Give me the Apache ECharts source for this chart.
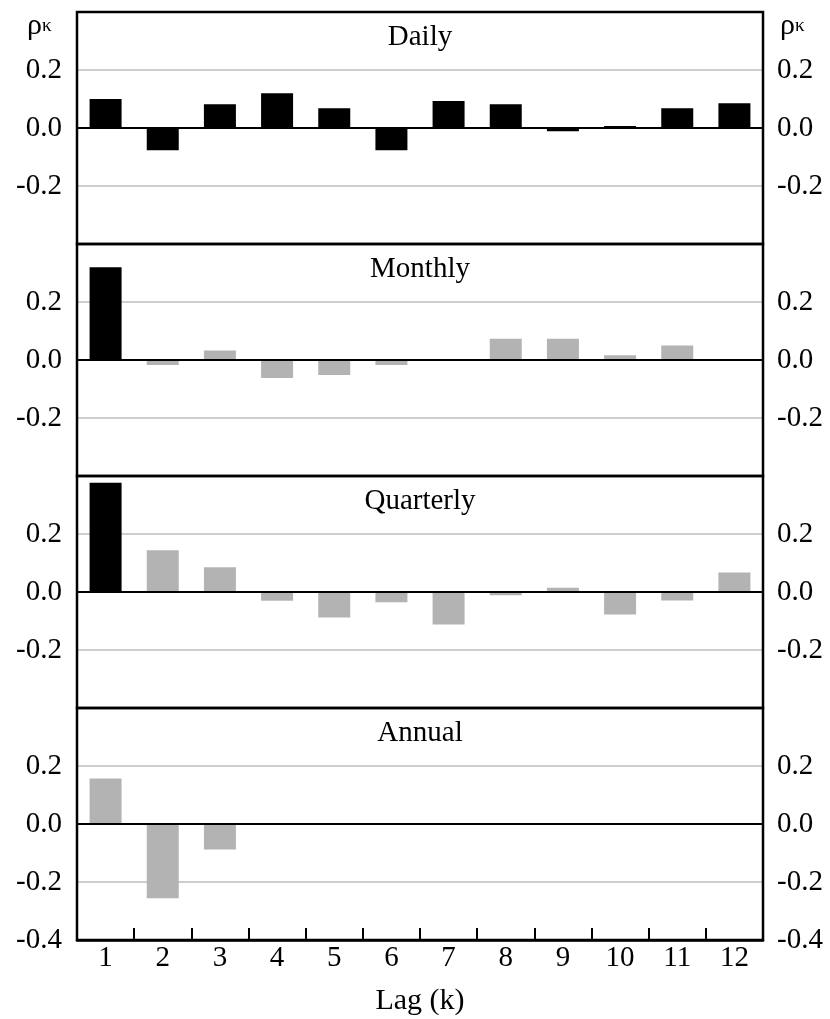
<!DOCTYPE html>
<html>
<head>
<meta charset="utf-8">
<script src="https://cdn.jsdelivr.net/npm/echarts@6/dist/echarts.min.js"></script>
<style>
html,body{margin:0;padding:0;background:#fff;}
#chart{width:830px;height:1019px;}
</style>
</head>
<body>
<div id="chart"></div>
<script>
// ---- data ----
var lags = ['1','2','3','4','5','6','7','8','9','10','11','12'];
var panelNames = ['Daily','Monthly','Quarterly','Annual'];
var daily     = [0.100, -0.077, 0.082, 0.120, 0.068, -0.077, 0.093, 0.082, -0.011, 0.007, 0.068, 0.085];
var monthly   = [0.320, -0.017, 0.033, -0.062, -0.052, -0.017, -0.003, 0.073, 0.073, 0.016, 0.050, -0.002];
var quarterly = [0.377, 0.144, 0.085, -0.030, -0.088, -0.035, -0.112, -0.011, 0.015, -0.078, -0.029, 0.067];
var annual    = [0.157, -0.256, -0.088];
// significant lags drawn in black, others in grey
var dailySig     = [true,true,true,true,true,true,true,true,true,true,true,true];
var monthlySig   = [true,false,false,false,false,false,false,false,false,false,false,false];
var quarterlySig = [true,false,false,false,false,false,false,false,false,false,false,false];
var annualSig    = [false,false,false];
var yTicks = [-0.4, -0.2, 0.0, 0.2, 0.4];
var xName = 'Lag (k)';
var yName = ['ρ','κ'];

// ---- layout / style ----
var FONT = 'Liberation Serif';
var FS = 29;
var L = 77, R = 763, W = 830;
var tops = [12, 244, 476, 708];
var H = 232;
var seriesVals = [daily, monthly, quarterly, annual];
var seriesSig = [dailySig, monthlySig, quarterlySig, annualSig];

var grids = [], xAxes = [], yAxes = [], series = [], graphics = [];
tops.forEach(function(t, i){
  var last = (i === tops.length - 1);
  grids.push({left: L, right: W - R, top: t, height: H, show: true, z: 6,
    borderColor: '#000', borderWidth: 2.5, backgroundColor: 'transparent'});
  // zero line axis
  xAxes.push({type: 'category', data: lags, gridIndex: i, boundaryGap: true, z: 5,
    axisLine: {show: true, onZero: true, lineStyle: {color: '#000', width: 2}},
    axisTick: {show: false}, axisLabel: {show: false}, splitLine: {show: false}});
  var fmt = function(v){
    if (Math.abs(v - 0.4) < 1e-6) return '';
    if (Math.abs(v + 0.4) < 1e-6 && !last) return '';
    return v.toFixed(1);
  };
  var ymin = yTicks[0], ymax = yTicks[yTicks.length-1], yint = yTicks[1]-yTicks[0];
  yAxes.push({type: 'value', gridIndex: i, position: 'left', min: ymin, max: ymax, interval: yint,
    axisLine: {show: false}, axisTick: {show: false},
    axisLabel: {formatter: fmt, fontFamily: FONT, fontSize: FS, color: '#000', margin: 15},
    splitLine: {show: true, lineStyle: {color: '#bdbdbd', width: 1.6}}});
  yAxes.push({type: 'value', gridIndex: i, position: 'right', min: ymin, max: ymax, interval: yint,
    axisLine: {show: false}, axisTick: {show: false},
    axisLabel: {formatter: fmt, fontFamily: FONT, fontSize: FS, color: '#000', margin: 14},
    splitLine: {show: false}});
  var vals = seriesVals[i], sig = seriesSig[i];
  series.push({type: 'bar', xAxisIndex: xAxes.length - 1, yAxisIndex: 2*i, barWidth: 32, z: 3,
    data: vals.map(function(v, k){
      return {value: v, itemStyle: {color: sig[k] ? '#000000' : '#b3b3b3'}};
    })});
  graphics.push({type: 'text', x: (L + R) / 2, y: t + 25,
    style: {text: panelNames[i], fontFamily: FONT, fontSize: FS, fill: '#000',
      textAlign: 'center', textVerticalAlign: 'middle'}});
});
// bottom axis with ticks and labels
xAxes.push({type: 'category', data: lags, gridIndex: 3, boundaryGap: true, position: 'bottom',
  axisLine: {show: true, onZero: false, lineStyle: {color: '#000', width: 2.5}},
  axisTick: {show: true, inside: true, length: 12, lineStyle: {color: '#000', width: 2}},
  axisLabel: {show: true, fontFamily: FONT, fontSize: FS, color: '#000', margin: 4},
  name: xName, nameLocation: 'middle', nameGap: 46,
  nameTextStyle: {fontFamily: FONT, fontSize: 30, color: '#000'},
  splitLine: {show: false}});

// rho_k labels
[27, 780].forEach(function(px){
  graphics.push({type: 'text', x: px, y: 41,
    style: {text: '{a|' + yName[0] + '}{b|' + yName[1] + '}',
      textVerticalAlign: 'bottom', textAlign: 'left',
      rich: {a: {fontFamily: FONT, fontSize: 30, fill: '#000', color: '#000'},
             b: {fontFamily: FONT, fontSize: 19, fill: '#000', color: '#000'}}}});
});

var chart = echarts.init(document.getElementById('chart'), null, {renderer: 'canvas'});
chart.setOption({
  animation: false,
  backgroundColor: '#fff',
  grid: grids, xAxis: xAxes, yAxis: yAxes, series: series, graphic: graphics
});
</script>
</body>
</html>
